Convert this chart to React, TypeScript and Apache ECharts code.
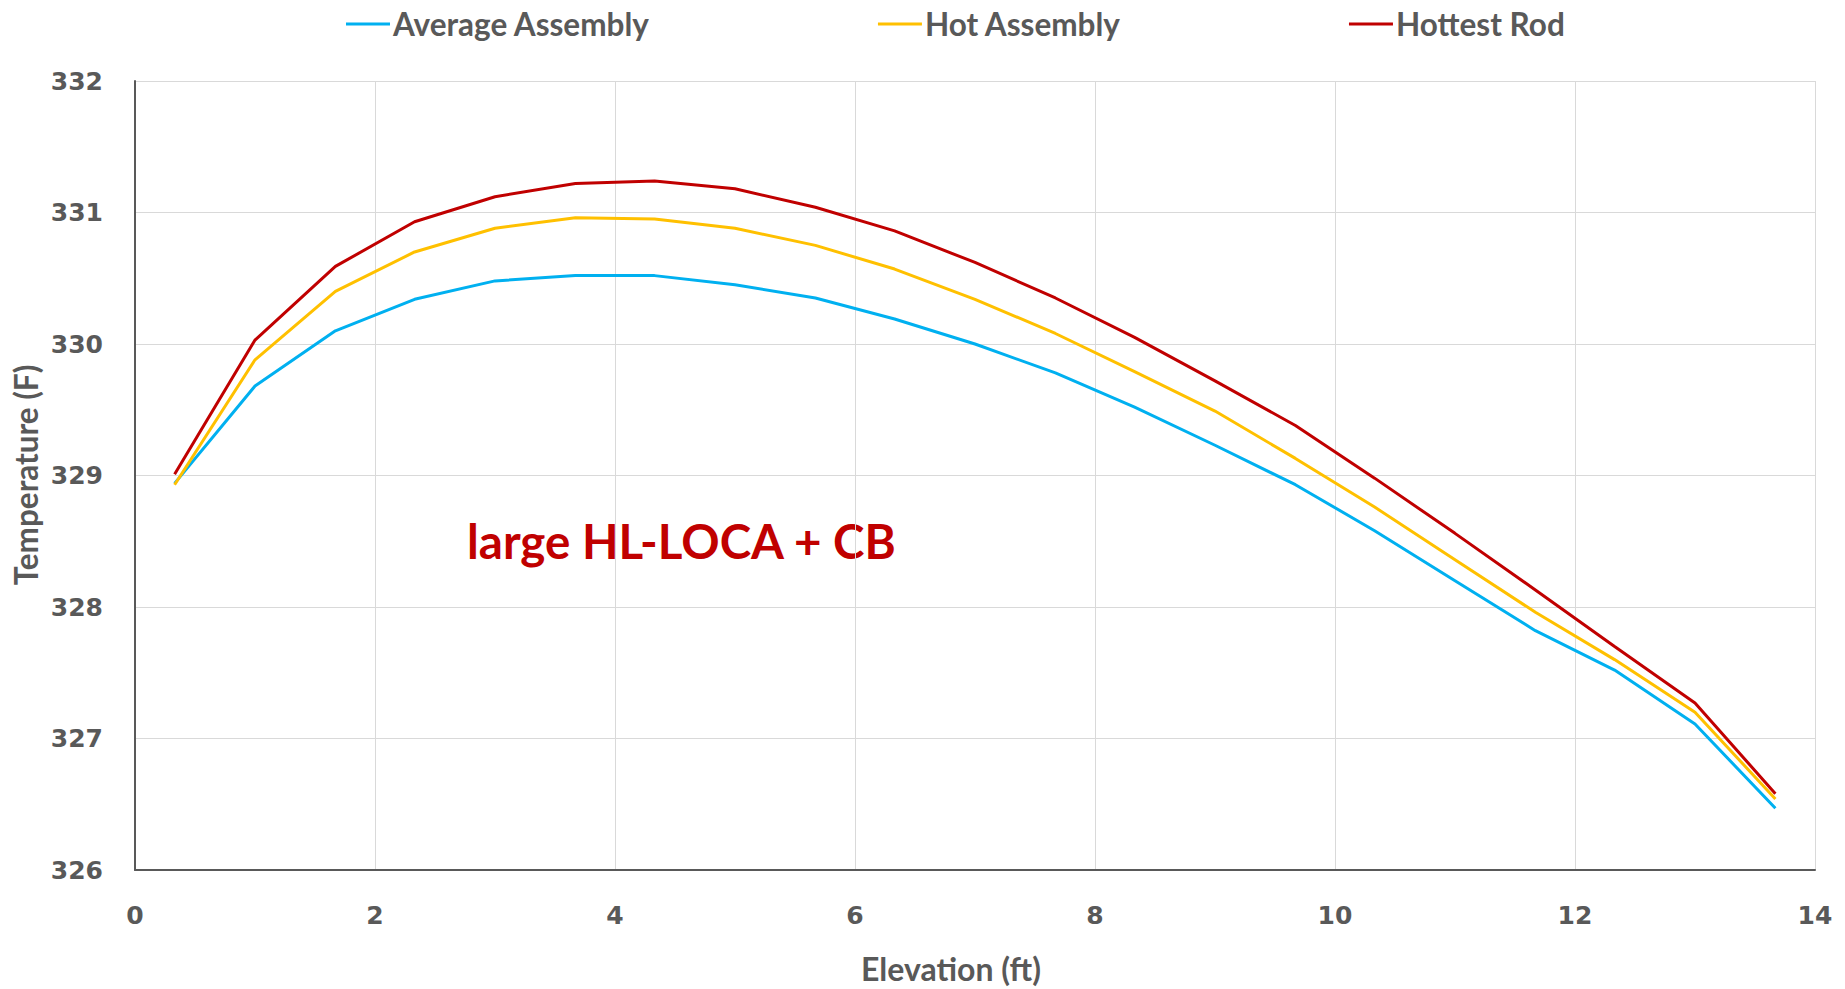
import React, { useEffect, useRef } from "react";
import * as echarts from "echarts";

const elevation = [0.33, 1.0, 1.67, 2.33, 3.0, 3.67, 4.33, 5.0, 5.67, 6.33, 7.0, 7.67, 8.33, 9.0, 9.67, 10.33, 11.0, 11.67, 12.33, 13.0, 13.67];
const averageAssembly = [328.94, 329.68, 330.1, 330.34, 330.48, 330.52, 330.52, 330.45, 330.35, 330.19, 330.0, 329.78, 329.52, 329.23, 328.93, 328.58, 328.2, 327.82, 327.52, 327.11, 326.47];
const hotAssembly = [328.93, 329.88, 330.4, 330.7, 330.88, 330.96, 330.95, 330.88, 330.75, 330.57, 330.34, 330.08, 329.79, 329.49, 329.13, 328.76, 328.36, 327.96, 327.6, 327.2, 326.54];
const hottestRod = [329.01, 330.03, 330.59, 330.93, 331.12, 331.22, 331.24, 331.18, 331.04, 330.86, 330.62, 330.35, 330.05, 329.72, 329.38, 328.98, 328.56, 328.13, 327.7, 327.27, 326.58];
const seriesNames = ["Average Assembly", "Hot Assembly", "Hottest Rod"];
const seriesColors = ["#00B0F0", "#FFC000", "#C00000"];
const xTitle = "Elevation (ft)";
const yTitle = "Temperature (F)";
const annotation = "large HL-LOCA + CB";

export default function App() {
  const ref = useRef<HTMLDivElement>(null);
  useEffect(() => {
    if (!ref.current) return;
    const chart = echarts.init(ref.current, undefined, { renderer: "svg" });
    const values = [averageAssembly, hotAssembly, hottestRod];
    const gray = "#595959";
    chart.setOption({
      animation: false,
      backgroundColor: "#ffffff",
      grid: { left: 135, right: 30, top: 81, bottom: 119, containLabel: false, outerBoundsMode: "none" },
      legend: {
        top: 3,
        left: 341,
        itemGap: 228,
        itemWidth: 44,
        itemHeight: 3,
        icon: "rect",
        data: seriesNames,
        textStyle: { fontFamily: "Lato", fontWeight: "bold", fontSize: 31.5, color: gray, padding: [0, 0, 0, -2] },
      },
      xAxis: {
        type: "value",
        min: 0,
        max: 14,
        interval: 2,
        axisLine: { show: true, lineStyle: { color: gray, width: 2 } },
        axisTick: { show: false },
        axisLabel: { fontFamily: "DejaVu Sans", fontWeight: "bold", fontSize: 25, color: gray, margin: 33 },
        splitLine: { show: true, lineStyle: { color: "#d9d9d9", width: 1 } },
      },
      yAxis: {
        type: "value",
        min: 326,
        max: 332,
        interval: 1,
        axisLine: { show: true, lineStyle: { color: gray, width: 2 } },
        axisTick: { show: false },
        axisLabel: { fontFamily: "DejaVu Sans", fontWeight: "bold", fontSize: 25, color: gray, margin: 32 },
        splitLine: { show: true, lineStyle: { color: "#d9d9d9", width: 1 } },
      },
      series: seriesNames.map((name, i) => ({
        name,
        type: "line",
        data: elevation.map((x, j) => [x, values[i][j]]),
        showSymbol: false,
        symbol: "none",
        lineStyle: { color: seriesColors[i], width: 3 },
        itemStyle: { color: seriesColors[i] },
      })),
      graphic: [
        {
          type: "text",
          left: 467,
          top: 516,
          style: {
            text: annotation,
            fontFamily: "Lato",
            fontWeight: "bold",
            fontSize: 47.5,
            fill: "#C00000",
          },
        },
        {
          type: "text",
          x: 951,
          y: 968,
          style: {
            text: xTitle,
            fontFamily: "Lato",
            fontWeight: "bold",
            fontSize: 32,
            fill: gray,
            align: "center",
            verticalAlign: "middle",
          },
        },
        {
          type: "text",
          x: 26,
          y: 475,
          rotation: Math.PI / 2,
          style: {
            text: yTitle,
            fontFamily: "Lato",
            fontWeight: "bold",
            fontSize: 31.5,
            fill: gray,
            align: "center",
            verticalAlign: "middle",
          },
        },
      ],
    });
    return () => chart.dispose();
  }, []);
  return <div ref={ref} style={{ position: "absolute", left: 0, top: 0, width: 1845, height: 989 }} />;
}
